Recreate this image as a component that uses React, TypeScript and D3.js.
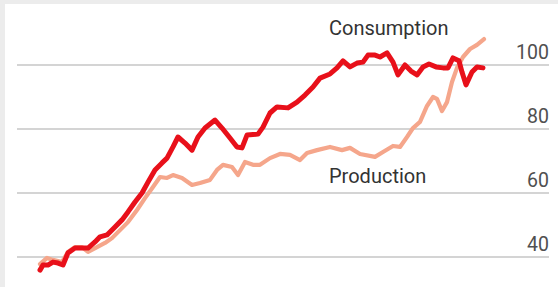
import React from 'react';
import * as d3 from 'd3';

// time position (arbitrary units along the x axis) and index value
const consumptionT = [0, 3, 8, 13, 18, 23, 28, 35, 42, 48, 55, 60, 67, 75, 82, 88, 95, 102, 108, 115, 122, 127, 133, 138, 145, 152, 158, 165, 175, 182, 190, 197, 202, 207, 218, 223, 230, 237, 248, 257, 265, 273, 280, 290, 297, 303, 310, 317, 323, 328, 335, 340, 347, 353, 358, 365, 371, 377, 383, 389, 396, 403, 408, 413, 419, 422, 426, 432, 437, 443];
const consumption = [35.9, 37.5, 37.5, 38.4, 38.1, 37.5, 41.3, 42.8, 42.8, 42.8, 44.7, 46.3, 46.9, 49.4, 51.6, 54.1, 57.2, 60.0, 63.4, 67.2, 69.4, 70.9, 74.4, 77.5, 75.6, 73.4, 77.5, 80.3, 82.8, 80.3, 77.2, 74.4, 74.1, 78.1, 78.4, 80.6, 85.0, 86.9, 86.6, 88.4, 90.6, 93.1, 95.9, 97.2, 99.1, 101.3, 99.4, 100.6, 100.9, 103.1, 103.1, 102.5, 103.8, 100.9, 96.9, 100.0, 98.1, 96.9, 99.4, 100.3, 99.4, 99.1, 99.1, 102.2, 101.3, 97.8, 93.8, 97.8, 99.4, 99.1];

const productionT = [0, 7, 13, 22, 28, 35, 42, 48, 57, 65, 72, 80, 88, 97, 105, 113, 120, 127, 133, 142, 152, 160, 170, 177, 183, 192, 198, 205, 213, 220, 230, 240, 250, 260, 267, 277, 290, 302, 310, 320, 335, 343, 353, 360, 367, 373, 380, 387, 393, 397, 402, 407, 412, 417, 423, 430, 437, 444];
const production = [37.8, 39.7, 39.1, 38.4, 41.6, 43.1, 43.1, 41.6, 43.1, 44.4, 45.9, 48.4, 50.9, 54.7, 58.4, 61.9, 65.0, 64.7, 65.6, 64.7, 62.5, 63.1, 64.1, 67.2, 68.8, 68.1, 65.6, 69.7, 68.8, 68.8, 70.9, 72.2, 71.9, 70.3, 72.5, 73.4, 74.4, 73.4, 74.1, 72.2, 71.3, 72.8, 74.7, 74.4, 77.5, 80.3, 82.2, 87.2, 90.0, 89.4, 85.6, 88.4, 94.7, 99.1, 102.5, 105.0, 106.3, 108.1];

const yTicks = [40, 60, 80, 100];

const W = 558;
const H = 287;

export default function App() {
  const x = d3.scaleLinear().domain([0, 444]).range([40, 484]);
  const y = d3.scaleLinear().domain([40, 100]).range([257, 65]);

  const line = d3.line<[number, number]>()
    .x(d => x(d[0]))
    .y(d => y(d[1]));

  const cons = consumptionT.map((t, i) => [t, consumption[i]] as [number, number]);
  const prod = productionT.map((t, i) => [t, production[i]] as [number, number]);

  return (
    <div style={{ position: 'fixed', left: 0, top: 0 }}>
      <svg width={W} height={H} style={{ display: 'block' }}>
        <rect width={W} height={H} fill="#ececec" />
        <rect x={5} y={4} width={W - 5} height={H - 4} fill="#ffffff" />

        {/* gridlines + labels */}
        {yTicks.map(v => (
          <g key={v}>
            <line x1={17} x2={549} y1={y(v)} y2={y(v)} stroke="#c6c6c6" strokeWidth={1.5} />
            <text x={549} y={y(v) - 6} textAnchor="end" fontFamily="Roboto, sans-serif" fontSize={19.5} fill="#505050">{v}</text>
          </g>
        ))}

        <path d={line(prod) ?? ''} fill="none" stroke="#f5a68b" strokeWidth={4.2} strokeLinejoin="round" strokeLinecap="round" />
        <path d={line(cons) ?? ''} fill="none" stroke="#e8101a" strokeWidth={5} strokeLinejoin="round" strokeLinecap="round" />

        <text x={329} y={35} fontFamily="Roboto, sans-serif" fontSize={20} fill="#333333">Consumption</text>
        <text x={329} y={183} fontFamily="Roboto, sans-serif" fontSize={20} fill="#333333">Production</text>
      </svg>
    </div>
  );
}
